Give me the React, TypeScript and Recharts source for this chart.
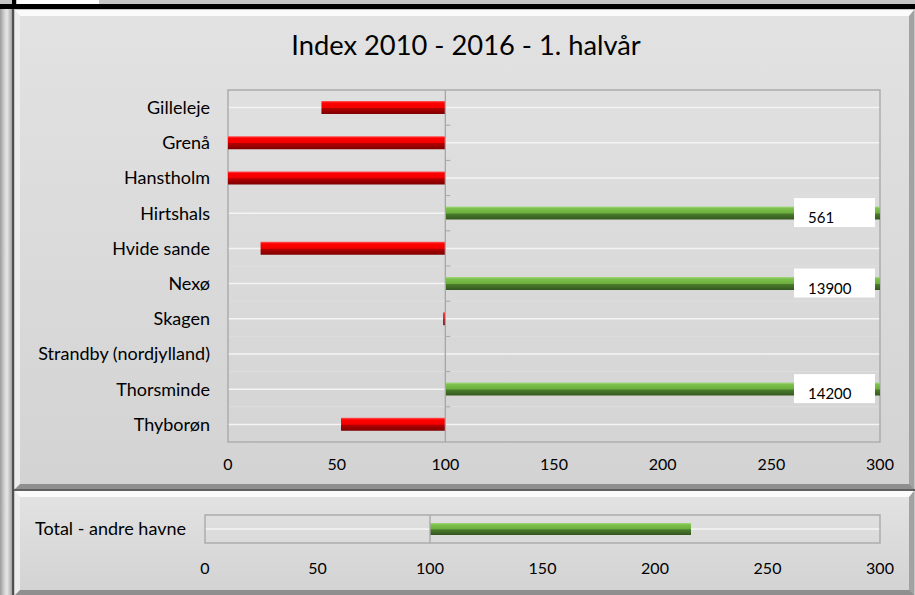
import React from 'react'
import {
  Bar,
  BarChart,
  CartesianGrid,
  Cell,
  LabelList,
  ReferenceArea,
  ReferenceLine,
  XAxis,
  YAxis,
} from 'recharts'

const havne = [
  'Gilleleje',
  'Grenå',
  'Hanstholm',
  'Hirtshals',
  'Hvide sande',
  'Nexø',
  'Skagen',
  'Strandby (nordjylland)',
  'Thorsminde',
  'Thyborøn',
]
const indeks: (number | null)[] = [43, 0, 0, 561, 15, 13900, 99, null, 14200, 52]
const totalNavn = ['Total - andre havne']
const totalIndeks = [216]
const xTicks = [0, 50, 100, 150, 200, 250, 300]
const BASIS = 100
const MAX = 300

const FONT = 'Lato, "Open Sans", sans-serif'

const toRows = (names: string[], vals: (number | null)[]) =>
  names.map((name, i) => {
    const v = vals[i]
    return {
      name,
      value: v,
      range: v == null ? null : v < BASIS ? [v, BASIS] : [BASIS, v],
      label: v != null && v > MAX ? String(v) : null,
    }
  })

const rows = toRows(havne, indeks)
const totalRows = toRows(totalNavn, totalIndeks)

const MAIN_W = 896
const MAIN_H = 474
const MAIN_MARGIN = { top: 78, right: 32, bottom: 14, left: 12 }

const TOT_W = 896
const TOT_H = 98
const TOT_MARGIN = { top: 21, right: 32, bottom: 19, left: 9 }

const Gradients = () => (
  <defs>
    <linearGradient id="rodBar" x1="0" y1="0" x2="0" y2="1">
      <stop offset="0%" stopColor="#ff5a5a" />
      <stop offset="15%" stopColor="#ff0000" />
      <stop offset="50%" stopColor="#f20000" />
      <stop offset="56%" stopColor="#b40000" />
      <stop offset="100%" stopColor="#7c0000" />
    </linearGradient>
    <linearGradient id="gronBar" x1="0" y1="0" x2="0" y2="1">
      <stop offset="0%" stopColor="#a6d97f" />
      <stop offset="15%" stopColor="#7cc04c" />
      <stop offset="50%" stopColor="#6daf3f" />
      <stop offset="56%" stopColor="#4a7d2c" />
      <stop offset="100%" stopColor="#34561f" />
    </linearGradient>
  </defs>
)

// lodret akse ved 100 med små streger mellem kategorierne
const basisShape = (count: number) => (props: any) => {
  const { x1, y1, y2 } = props
  const top = Math.min(y1, y2)
  const bottom = Math.max(y1, y2)
  const step = (bottom - top) / count
  const marks = []
  for (let i = 1; i < count; i++) {
    const y = top + i * step
    marks.push(<line key={i} x1={x1} x2={x1 + 5} y1={y} y2={y} stroke="#a6a6a6" />)
  }
  return (
    <g>
      <line x1={x1} x2={x1} y1={top} y2={bottom} stroke="#a6a6a6" strokeWidth={1.3} />
      {marks}
    </g>
  )
}

const OverLabel = (props: any) => {
  const { y, height, value } = props
  if (!value) return null
  const cy = y + height / 2
  const bx = MAIN_W - MAIN_MARGIN.right - 86
  return (
    <g>
      <rect x={bx} y={cy - 15} width={81} height={29} fill="#ffffff" />
      <text x={bx + 14} y={cy + 10} fontSize={15} fontFamily={FONT} fill="#000">
        {value}
      </text>
    </g>
  )
}

const panel = (top: number, height: number): React.CSSProperties => ({
  position: 'absolute',
  left: 15,
  top,
  width: 899,
  height,
  boxSizing: 'border-box',
  borderTop: '6px solid #fbfbfb',
  borderLeft: '5px solid #ededed',
  borderRight: '5px solid #a2a2a2',
  borderBottom: '5px solid #8f8f8f',
  background: 'linear-gradient(#e2e2e2, #d3d3d3)',
})

export default function App() {
  return (
    <div
      style={{
        position: 'absolute',
        left: 0,
        top: 0,
        width: 915,
        height: 595,
        overflow: 'hidden',
        background: '#c6c6c6',
        fontFamily: FONT,
      }}
    >
      <div style={{ position: 'absolute', left: 17, top: 0, width: 82, height: 4, background: '#fff' }} />
      <div style={{ position: 'absolute', left: 0, top: 4, width: 915, height: 5, background: '#000' }} />
      <div style={{ position: 'absolute', left: 12, top: 0, width: 4, height: 9, background: '#000' }} />
      <div
        style={{
          position: 'absolute',
          left: 0,
          top: 9,
          width: 12,
          height: 586,
          background: 'linear-gradient(to right, #9c9c9c, #d6d6d6 40%, #e6e6e6 60%, #a4a4a4)',
        }}
      />
      <div style={{ position: 'absolute', left: 12, top: 9, width: 2, height: 586, background: '#505050' }} />
      <div style={{ position: 'absolute', left: 14, top: 489, width: 901, height: 2, background: '#606060' }} />

      <div style={panel(10, 479)} />
      <div style={panel(491, 104)} />

      <div
        style={{
          position: 'absolute',
          left: 16,
          top: 31,
          width: 900,
          textAlign: 'center',
          fontSize: 27.3,
          lineHeight: '28px',
          color: '#000',
        }}
      >
        Index 2010 - 2016 - 1. halvår
      </div>

      <div style={{ position: 'absolute', left: 16, top: 12 }}>
        <BarChart width={MAIN_W} height={MAIN_H} data={rows} layout="vertical" margin={MAIN_MARGIN}>
          <Gradients />
          <CartesianGrid
            vertical={false}
            stroke="#dedede"
            horizontalCoordinatesGenerator={({ offset }: any) =>
              havne.map((_, i) => offset.top + (i * offset.height) / havne.length)
            }
          />
          <CartesianGrid vertical={false} stroke="#f4f4f4" strokeWidth={1.5} />
          <ReferenceArea x1={0} x2={MAX} stroke="#a6a6a6" strokeWidth={1.3} fill="none" />
          <XAxis
            type="number"
            domain={[0, MAX]}
            ticks={xTicks}
            allowDataOverflow
            axisLine={false}
            tickLine={false}
            tickMargin={11}
            height={30}
            tick={{ fill: '#000', fontSize: 16, fontFamily: FONT }}
          />
          <YAxis
            type="category"
            dataKey="name"
            width={200}
            axisLine={false}
            tickLine={false}
            tickMargin={12}
            interval={0}
            tick={{ fill: '#000', fontSize: 18, fontFamily: FONT }}
          />
          <Bar dataKey="range" barSize={13} isAnimationActive={false}>
            {rows.map((r, i) => (
              <Cell key={i} fill={r.value != null && r.value < BASIS ? 'url(#rodBar)' : 'url(#gronBar)'} />
            ))}
            <LabelList dataKey="label" content={OverLabel} />
          </Bar>
          <ReferenceLine x={BASIS} shape={basisShape(havne.length)} />
        </BarChart>
      </div>

      <div style={{ position: 'absolute', left: 16, top: 494 }}>
        <BarChart width={TOT_W} height={TOT_H} data={totalRows} layout="vertical" margin={TOT_MARGIN}>
          <Gradients />
          <CartesianGrid vertical={false} stroke="#f4f4f4" strokeWidth={1.5} />
          <ReferenceArea x1={0} x2={MAX} stroke="#a6a6a6" strokeWidth={1.3} fill="none" />
          <XAxis
            type="number"
            domain={[0, MAX]}
            ticks={xTicks}
            allowDataOverflow
            axisLine={false}
            tickLine={false}
            tickMargin={14}
            height={30}
            tick={{ fill: '#000', fontSize: 16, fontFamily: FONT }}
          />
          <YAxis
            type="category"
            dataKey="name"
            width={180}
            axisLine={false}
            tickLine={false}
            tickMargin={13}
            tick={{ fill: '#000', fontSize: 18, fontFamily: FONT }}
          />
          <Bar dataKey="range" barSize={12} isAnimationActive={false}>
            {totalRows.map((r, i) => (
              <Cell key={i} fill={r.value != null && r.value < BASIS ? 'url(#rodBar)' : 'url(#gronBar)'} />
            ))}
          </Bar>
          <ReferenceLine x={BASIS} shape={basisShape(totalNavn.length)} />
        </BarChart>
      </div>
    </div>
  )
}
